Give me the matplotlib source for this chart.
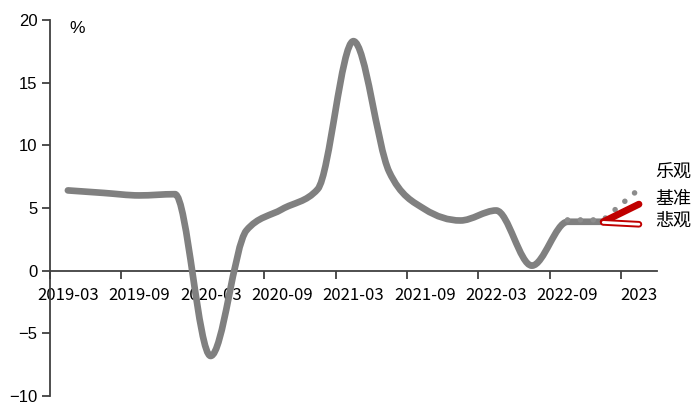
import matplotlib.pyplot as plt
import numpy as np
from matplotlib.path import Path
from matplotlib.patches import PathPatch

plt.rcParams['font.family'] = ['Noto Sans CJK SC', 'DejaVu Sans']
plt.rcParams['axes.unicode_minus'] = True

# quarterly GDP growth, % y/y
quarters = ['2019-03', '2019-06', '2019-09', '2019-12',
            '2020-03', '2020-06', '2020-09', '2020-12',
            '2021-03', '2021-06', '2021-09', '2021-12',
            '2022-03', '2022-06', '2022-09', '2022-12', '2023-03']
gdp = [6.4, 6.2, 6.0, 6.1, -6.8, 3.2, 4.9, 6.5, 18.3, 7.9, 4.9, 4.0,
       4.8, 0.4, 3.9, 3.9]

# scenarios for 2023Q1
opt_idx = [14, 15, 16]
opt_vals = [4.05, 4.05, 6.5]
base_idx = [15, 16]
base_vals = [3.9, 5.3]
pess_idx = [15, 16]
pess_vals = [3.85, 3.7]

tick_labels = ['2019-03', '2019-09', '2020-03', '2020-09', '2021-03',
               '2021-09', '2022-03', '2022-09', '2023']


def monotone_path(xs, ys):
    # monotone cubic curve through the points, as bezier segments
    xs = np.asarray(xs, float)
    ys = np.asarray(ys, float)
    n = len(xs)
    h = np.diff(xs)
    s = np.diff(ys) / h
    m = np.zeros(n)
    for i in range(1, n - 1):
        p = (s[i - 1] * h[i] + s[i] * h[i - 1]) / (h[i - 1] + h[i])
        m[i] = (np.sign(s[i - 1]) + np.sign(s[i])) * min(
            abs(s[i - 1]), abs(s[i]), 0.5 * abs(p))
    m[0] = (3 * s[0] - m[1]) / 2
    m[-1] = (3 * s[-1] - m[-2]) / 2
    verts = [(xs[0], ys[0])]
    codes = [Path.MOVETO]
    for i in range(n - 1):
        d = h[i] / 3
        verts += [(xs[i] + d, ys[i] + d * m[i]),
                  (xs[i + 1] - d, ys[i + 1] - d * m[i + 1]),
                  (xs[i + 1], ys[i + 1])]
        codes += [Path.CURVE4] * 3
    return Path(verts, codes)


fig = plt.figure(figsize=(6.95, 4.05), dpi=100)
ax = fig.add_axes([0.072, 0.022, 0.873, 0.929])

x = np.arange(len(gdp))
ax.add_patch(PathPatch(monotone_path(x, gdp), facecolor='none',
                       edgecolor='#808080', lw=4.8, capstyle='round',
                       joinstyle='round', zorder=3))

ax.plot(opt_idx, opt_vals, color='#8c8c8c', lw=4,
        linestyle=(0, (0.01, 2.3)), dash_capstyle='round', zorder=4)
ax.plot(base_idx, base_vals, color='#c00000', lw=5,
        solid_capstyle='round', zorder=5)
ax.plot(pess_idx, pess_vals, color='#c00000', lw=4.8,
        solid_capstyle='round', zorder=5)
ax.plot(pess_idx, pess_vals, color='white', lw=2,
        solid_capstyle='round', zorder=6)

ax.set_xlim(-0.5, 16.5)
ax.set_ylim(-10, 20)
ax.set_yticks([-10, -5, 0, 5, 10, 15, 20])

ax.set_xticks(np.arange(-0.5, 16, 2))
ax.set_xticklabels([])
ax.set_xticks(np.arange(0, 17, 2), minor=True)
ax.set_xticklabels(tick_labels, minor=True)
ax.tick_params(axis='x', which='major', direction='out', length=6,
               width=1.3, color='#404040')
ax.tick_params(axis='x', which='minor', length=0, pad=12, labelsize=12)
ax.tick_params(axis='y', direction='out', length=6, width=1.3,
               color='#404040', pad=3)
for lab in ax.get_yticklabels():
    lab.set_fontfamily(['Liberation Sans', 'DejaVu Sans'])
    lab.set_fontsize(12)

ax.spines['top'].set_visible(False)
ax.spines['right'].set_visible(False)
ax.spines['bottom'].set_position(('data', 0))
ax.spines['bottom'].set_zorder(1)
for s in ('left', 'bottom'):
    ax.spines[s].set_color('#404040')
    ax.spines[s].set_linewidth(1.3)

ax.text(0.25, 19.3, '%', fontsize=12.5, ha='center', va='center',
        family=['Liberation Sans', 'DejaVu Sans'])
ax.text(16.45, 7.85, '乐观', fontsize=13, ha='left', va='center')
ax.text(16.45, 5.7, '基准', fontsize=13, ha='left', va='center')
ax.text(16.45, 3.95, '悲观', fontsize=13, ha='left', va='center')

fig.savefig('out.png', dpi=100)
